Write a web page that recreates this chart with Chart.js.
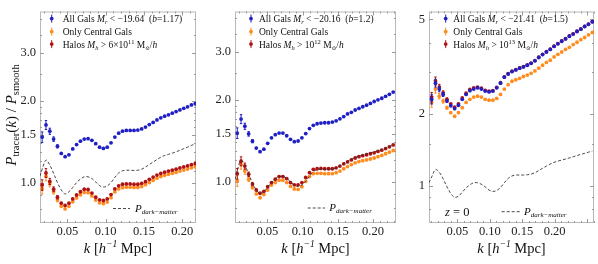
<!DOCTYPE html>
<html><head><meta charset="utf-8">
<script src="https://cdn.jsdelivr.net/npm/chart.js@4.4.1/dist/chart.umd.min.js"></script>
<style>
html,body{margin:0;padding:0;background:#fff;}
#wrap{position:relative;width:598px;height:264px;overflow:hidden;background:#fff;}
canvas{position:absolute;top:0;}
</style></head><body>
<div id="wrap">
<canvas id="c1" width="200" height="264" style="left:0px;width:200px;height:264px"></canvas>
<canvas id="c2" width="200" height="264" style="left:200px;width:200px;height:264px"></canvas>
<canvas id="c3" width="198" height="264" style="left:400px;width:198px;height:264px"></canvas>
</div>
<script>
// ---------------- DATA ----------------
// Panel 1 (M_r < -19.64)
const k1 = [0.017,0.022,0.027,0.032,0.037,0.042,0.047,0.052,0.057,0.062,0.067,0.072,0.077,0.082,0.087,0.092,0.097,0.102,0.107,0.112,0.117,0.122,0.127,0.132,0.137,0.142,0.147,0.152,0.157,0.162,0.167,0.172,0.177,0.182,0.187,0.192,0.197,0.202,0.207,0.212,0.217];
const allGals1 = [1.47,1.63,1.545,1.445,1.36,1.28,1.245,1.265,1.33,1.38,1.42,1.445,1.45,1.43,1.39,1.35,1.335,1.35,1.40,1.47,1.52,1.545,1.555,1.555,1.555,1.56,1.575,1.60,1.635,1.665,1.70,1.73,1.755,1.775,1.80,1.825,1.85,1.875,1.90,1.93,1.95];
const centrals1 = [0.95,1.055,0.99,0.925,0.862,0.818,0.800,0.818,0.850,0.878,0.902,0.920,0.918,0.893,0.862,0.842,0.836,0.848,0.880,0.924,0.948,0.958,0.962,0.962,0.960,0.960,0.968,0.982,1.000,1.020,1.038,1.052,1.063,1.073,1.082,1.091,1.102,1.112,1.122,1.133,1.143];
const halos1 = [0.98,1.085,1.01,0.946,0.883,0.840,0.824,0.840,0.871,0.900,0.925,0.945,0.943,0.915,0.883,0.864,0.859,0.871,0.903,0.948,0.973,0.986,0.989,0.989,0.986,0.986,0.994,1.008,1.028,1.048,1.066,1.080,1.092,1.102,1.111,1.120,1.132,1.142,1.152,1.164,1.174];
const kDM1 = [0.0142,0.017,0.022,0.027,0.032,0.037,0.042,0.047,0.052,0.057,0.062,0.067,0.072,0.077,0.082,0.087,0.092,0.097,0.102,0.107,0.112,0.117,0.122,0.127,0.132,0.137,0.142,0.147,0.152,0.157,0.162,0.167,0.172,0.177,0.182,0.187,0.192,0.197,0.202,0.207,0.212,0.217];
const darkMatter1 = [1.057,1.12,1.21,1.16,1.08,1.00,0.94,0.908,0.925,0.96,1.00,1.03,1.05,1.05,1.035,1.005,0.975,0.963,0.972,1.00,1.045,1.085,1.105,1.11,1.11,1.108,1.11,1.12,1.14,1.165,1.19,1.215,1.24,1.258,1.27,1.283,1.298,1.315,1.333,1.35,1.37,1.387];

// Panel 2 (M_r < -20.16)
const k2 = [0.0072,0.0126,0.0180,0.0234,0.0288,0.0342,0.0396,0.0450,0.0504,0.0558,0.0612,0.0666,0.0720,0.0774,0.0828,0.0882,0.0936,0.0990,0.1044,0.1098,0.1152,0.1206,0.1260,0.1314,0.1368,0.1422,0.1476,0.1530,0.1584,0.1638,0.1692,0.1746,0.1800,0.1854,0.1908,0.1962,0.2016,0.2070,0.2124,0.2178,0.2232,0.2286];
const allGals2 = [1.51,1.70,1.60,1.50,1.41,1.33,1.29,1.318,1.385,1.45,1.49,1.51,1.51,1.476,1.432,1.404,1.412,1.45,1.504,1.568,1.612,1.634,1.643,1.648,1.648,1.657,1.675,1.703,1.736,1.775,1.80,1.835,1.86,1.886,1.912,1.94,1.972,2.0,2.027,2.06,2.095,2.136];
const centrals2 = [1.008,1.157,1.095,1.022,0.954,0.903,0.874,0.898,0.933,0.973,0.994,1.014,1.014,0.994,0.962,0.941,0.938,0.959,1.003,1.045,1.071,1.074,1.074,1.071,1.071,1.071,1.080,1.095,1.117,1.138,1.157,1.174,1.187,1.196,1.203,1.213,1.223,1.237,1.250,1.268,1.285,1.303];
const halos2 = [1.071,1.19,1.142,1.066,0.981,0.933,0.908,0.923,0.959,0.994,1.022,1.045,1.045,1.028,0.994,0.975,0.975,0.994,1.037,1.080,1.111,1.117,1.120,1.117,1.117,1.117,1.126,1.142,1.164,1.183,1.203,1.223,1.237,1.247,1.257,1.268,1.278,1.293,1.307,1.325,1.344,1.366];
const kDM2 = [0.004,0.0072,0.0126,0.0180,0.0234,0.0288,0.0342,0.0396,0.0450,0.0504,0.0558,0.0612,0.0666,0.0720,0.0774,0.0828,0.0882,0.0936,0.0990,0.1044,0.1098,0.1152,0.1206,0.1260,0.1314,0.1368,0.1422,0.1476,0.1530,0.1584,0.1638,0.1692,0.1746,0.1800,0.1854,0.1908,0.1962,0.2016,0.2070,0.2124,0.2178,0.2232,0.2286];
const darkMatter2 = [1.02,1.10,1.20,1.15,1.07,0.99,0.935,0.905,0.92,0.955,0.995,1.025,1.045,1.047,1.03,1.0,0.972,0.962,0.972,1.005,1.05,1.09,1.108,1.113,1.113,1.112,1.115,1.125,1.145,1.168,1.19,1.21,1.228,1.243,1.255,1.265,1.276,1.288,1.30,1.315,1.33,1.348,1.366];

// Panel 3 (M_r < -21.41)
const k3 = [0.0103,0.0162,0.0221,0.0280,0.0339,0.0398,0.0457,0.0516,0.0575,0.0634,0.0693,0.0752,0.0811,0.0870,0.0929,0.0988,0.1047,0.1106,0.1165,0.1224,0.1283,0.1342,0.1401,0.1460,0.1519,0.1578,0.1637,0.1696,0.1755,0.1814,0.1873,0.1932,0.1991,0.2050,0.2109,0.2168,0.2227,0.2286,0.2345,0.2404,0.2463,0.2522,0.2581];
const allGals3 = [2.31,2.70,2.55,2.42,2.27,2.17,2.11,2.18,2.31,2.42,2.51,2.55,2.58,2.55,2.50,2.48,2.50,2.58,2.70,2.86,2.95,3.02,3.07,3.12,3.16,3.21,3.27,3.35,3.46,3.56,3.65,3.74,3.85,3.95,4.05,4.14,4.25,4.34,4.45,4.55,4.67,4.77,4.89];
const centrals3 = [2.24,2.55,2.38,2.27,2.13,2.03,1.96,2.03,2.13,2.24,2.31,2.36,2.38,2.36,2.31,2.29,2.29,2.33,2.42,2.55,2.66,2.75,2.79,2.83,2.88,2.92,2.97,3.04,3.12,3.21,3.30,3.37,3.48,3.57,3.65,3.74,3.82,3.92,4.01,4.11,4.20,4.31,4.41];
const halos3 = [2.36,2.76,2.60,2.46,2.31,2.21,2.14,2.21,2.34,2.45,2.54,2.58,2.60,2.57,2.52,2.50,2.51,2.59,2.71,2.87,2.96,3.03,3.08,3.13,3.17,3.22,3.28,3.36,3.47,3.57,3.66,3.75,3.86,3.96,4.06,4.15,4.26,4.35,4.46,4.56,4.68,4.78,4.90];
const kDM3 = [0.0062,0.0103,0.0162,0.0221,0.0280,0.0339,0.0398,0.0457,0.0516,0.0575,0.0634,0.0693,0.0752,0.0811,0.0870,0.0929,0.0988,0.1047,0.1106,0.1165,0.1224,0.1283,0.1342,0.1401,0.1460,0.1519,0.1578,0.1637,0.1696,0.1755,0.1814,0.1873,0.1932,0.1991,0.2050,0.2109,0.2168,0.2227,0.2286,0.2345,0.2404,0.2463,0.2522,0.2581];
const darkMatter3 = [1.03,1.09,1.17,1.14,1.07,0.99,0.93,0.895,0.905,0.94,0.98,1.01,1.03,1.03,1.015,0.99,0.96,0.948,0.955,0.985,1.03,1.075,1.10,1.11,1.11,1.11,1.113,1.12,1.135,1.16,1.185,1.21,1.235,1.255,1.27,1.283,1.296,1.31,1.325,1.34,1.355,1.37,1.385,1.40];

// fractional error bars (by k index)
const relErr = [0.045,0.038,0.026,0.019,0.014,0.012,0.010,0.009,0.009,0.008,0.008,0.008,0.007,0.007,0.007,0.007,0.007,0.007,0.006,0.006,0.006,0.006,0.006,0.006,0.006,0.006,0.006,0.006,0.006,0.006,0.006,0.006,0.006,0.006,0.006,0.006,0.006,0.006,0.006,0.006,0.006,0.006,0.006];

// tick labels
const xTickValues = [0.05,0.10,0.15,0.20];
const yTicks12 = [1.0,1.5,2.0,3.0];
const yTicks3 = [1,2,5];
const magCuts = ['−19.64','−20.16','−21.41'];
const biasVals = ['1.17','1.2','1.5'];

// ---------------- STYLE ----------------
const FONT = "'Liberation Serif','DejaVu Serif',serif";
const C_BLUE = '#1f1fc4', C_ORANGE = '#ff8c1e', C_RED = '#b01212', C_DM = '#333333';
const FRAME = '#b9b9b9';

function font(size, it){ return (it?'italic ':'') + size + 'px ' + FONT; }
function richWidth(ctx, parts){
  let w=0; for(const p of parts){ ctx.font=font(p[1],p[2]); w+=ctx.measureText(p[0]).width; } return w;
}
function drawRich(ctx, x, y, parts, align){
  let cx = x; if(align==='center') cx = x - richWidth(ctx,parts)/2;
  ctx.textAlign='left'; ctx.textBaseline='alphabetic';
  for(const p of parts){ ctx.font=font(p[1],p[2]); ctx.fillText(p[0], cx, y+(p[3]||0)); cx+=ctx.measureText(p[0]).width; }
}
function marker(ctx, x, y, col){
  ctx.strokeStyle=col; ctx.fillStyle=col; ctx.lineWidth=1;
  ctx.beginPath(); ctx.moveTo(x, y-4); ctx.lineTo(x, y+4); ctx.stroke();
  ctx.beginPath(); ctx.arc(x, y, 1.9, 0, Math.PI*2); ctx.fill();
}

const errorBarPlugin = {
  id:'errbars',
  beforeDatasetDraw(chart, args){
    const ds = chart.data.datasets[args.index];
    if(!ds.errFrac) return;
    const ctx=chart.ctx, ys=chart.scales.y;
    ctx.save(); ctx.strokeStyle=ds.backgroundColor; ctx.lineWidth=1;
    args.meta.data.forEach((pt,i)=>{
      const v=ds.data[i].y, e=ds.errFrac[i];
      const y1=ys.getPixelForValue(v*(1+e)), y2=ys.getPixelForValue(v*(1-e));
      ctx.beginPath(); ctx.moveTo(pt.x, y1); ctx.lineTo(pt.x, y2); ctx.stroke();
      if (e>0.012){ ctx.beginPath(); ctx.moveTo(pt.x-1.2,y1); ctx.lineTo(pt.x+1.2,y1); ctx.moveTo(pt.x-1.2,y2); ctx.lineTo(pt.x+1.2,y2); ctx.stroke(); }
    });
    ctx.restore();
  }
};

function framePlugin(cfg){
  return {
    id:'frame',
    beforeDatasetsDraw(chart){
      const {ctx, chartArea:a, scales:{x,y}} = chart;
      ctx.save();
      ctx.strokeStyle=FRAME; ctx.lineWidth=1;
      ctx.strokeRect(a.left+0.5, a.top+0.5, a.right-a.left-1, a.bottom-a.top-1);
      ctx.strokeStyle='#9a9a9a';
      // x ticks
      for(let t=0.01; t<x.max; t+=0.01){
        const tv=Math.round(t*100)/100; if(tv<x.min) continue;
        const px=Math.round(x.getPixelForValue(tv))+0.5;
        const L = (Math.round(tv*100)%5===0)?4:2;
        ctx.beginPath(); ctx.moveTo(px,a.bottom); ctx.lineTo(px,a.bottom-L); ctx.moveTo(px,a.top); ctx.lineTo(px,a.top+L); ctx.stroke();
      }
      const drawY=(v,L)=>{ if(v<y.min||v>y.max) return; const py=Math.round(y.getPixelForValue(v))+0.5;
        ctx.beginPath(); ctx.moveTo(a.left,py); ctx.lineTo(a.left+L,py); ctx.moveTo(a.right,py); ctx.lineTo(a.right-L,py); ctx.stroke(); };
      cfg.yTicks.forEach(v=>drawY(v,4));
      cfg.yMinor.forEach(v=>drawY(v,2));
      ctx.restore();
    },
    afterDraw(chart){
      const {ctx, chartArea:a} = chart;
      ctx.save(); ctx.fillStyle='#111';
      // legend
      const L=cfg.legend;
      const cols=[C_BLUE,C_ORANGE,C_RED];
      L.rows.forEach((r,i)=>{
        marker(ctx, L.mx, L.base[i]-3.4, cols[i]);
        ctx.fillStyle='#111';
        drawRich(ctx, L.tx, L.base[i], r);
      });
      // dark-matter legend
      const D=cfg.dm;
      ctx.strokeStyle=C_DM; ctx.lineWidth=0.9; ctx.setLineDash([3,2]);
      ctx.beginPath(); ctx.moveTo(D.x0, D.y); ctx.lineTo(D.x1, D.y); ctx.stroke(); ctx.setLineDash([]);
      ctx.fillStyle='#111';
      drawRich(ctx, D.tx, D.ty, [['P',11,1],['dark−matter',7,1,2]]);
      if(cfg.z){ drawRich(ctx, cfg.z.x, cfg.z.y, [['z',12.5,1],[' = 0',12.5,0]]); }
      // x title
      drawRich(ctx, (a.left+a.right)/2, 253, [['k',14.5,1],[' [',14.5,0],['h',14.5,1],['−1',9.5,1,-6],[' Mpc]',14.5,0]], 'center');
      // y title
      if(cfg.yTitle){
        ctx.save(); ctx.translate(16, 115); ctx.rotate(-Math.PI/2);
        drawRich(ctx, 0, 0, [['P',15,1],['tracer',10.5,0,3],['(',15,0],['k',15,1],[') / ',15,0],['P',15,1],['smooth',10.5,0,3]], 'center');
        ctx.restore();
      }
      ctx.restore();
    }
  };
}

function mk(ks, vals){ return ks.map((k,i)=>({x:k, y:vals[i]})); }

function legendRows(mag, b, halo){
  return [
    [['All Gals ',9.5,0],['M',9.5,1],['r',6.5,1,2],[' < '+mag+'  (',9.5,0],['b',9.5,1],['='+b+')',9.5,0]],
    [['Only Central Gals',9.5,0]],
    halo
  ];
}

function makeChart(id, P){
  const datasets = [
    {type:'line', data: mk(P.kDM, P.dm), borderColor:C_DM, borderWidth:0.9, borderDash:[3,2], pointRadius:0, tension:0.35, fill:false},
    {type:'scatter', data: mk(P.k, P.all), backgroundColor:C_BLUE, pointRadius:1.9, pointBorderWidth:0, errFrac: relErr},
    {type:'scatter', data: mk(P.k, P.halo), backgroundColor:C_RED, pointRadius:1.9, pointBorderWidth:0, errFrac: relErr},
    {type:'scatter', data: mk(P.k, P.cen), backgroundColor:C_ORANGE, pointRadius:1.9, pointBorderWidth:0, errFrac: relErr}
  ];
  return new Chart(document.getElementById(id), {
    type:'scatter',
    data:{datasets},
    options:{
      responsive:false, animation:false, devicePixelRatio:1,
      layout:{padding:{left:0,right:P.padR,top:7,bottom:0}},
      plugins:{legend:{display:false}, tooltip:{enabled:false}},
      scales:{
        x:{type:'linear', min:P.xmin, max:P.xmax, bounds:'data',
           grid:{display:false, drawTicks:false}, border:{display:false},
           afterBuildTicks:(s)=>{ s.ticks = xTickValues.map(v=>({value:v})); },
           afterFit:(s)=>{ s.height = 41; },
           ticks:{autoSkip:false, maxRotation:0, padding:1, color:'#222', font:{family:FONT, size:12.5},
                  callback:(v)=>Number(v).toFixed(2)}},
        y:{type:'logarithmic', min:P.ymin, max:P.ymax, bounds:'data',
           grid:{display:false, drawTicks:false}, border:{display:false},
           afterBuildTicks:(s)=>{ s.ticks = P.yTicks.map(v=>({value:v})); },
           afterFit:(s)=>{ s.width = P.yW; },
           ticks:{autoSkip:false, padding:4, color:'#222', font:{family:FONT, size:12.5},
                  callback:P.yFmt}}
      }
    },
    plugins:[errorBarPlugin, framePlugin(P.cfg)]
  });
}

makeChart('c1', {
  k:k1, all:allGals1, cen:centrals1, halo:halos1, kDM:kDM1, dm:darkMatter1,
  xmin:0.0142, xmax:0.218, ymin:0.71, ymax:4.26, yW:40, padR:1,
  yTicks:yTicks12, yFmt:(v)=>Number(v).toFixed(1),
  cfg:{ yTicks:yTicks12, yMinor:[0.8,0.9,1.1,1.2,1.3,1.4,1.6,1.7,1.8,1.9,2.5,3.5,4.0], yTitle:true,
    legend:{mx:51.7, tx:62.7, base:[22,35,47.5], rows:legendRows(magCuts[0], biasVals[0],
      [['Halos ',9.5,0],['M',9.5,1],['h',6.5,1,2],[' > 6×10',9.5,0],['11',6.5,0,-4],[' M',9.5,0],['⊙',5.5,0,2],['/',9.5,0],['h',9.5,1]])},
    dm:{x0:113, x1:130, y:208.5, tx:135, ty:211.5} }
});
makeChart('c2', {
  k:k2, all:allGals2, cen:centrals2, halo:halos2, kDM:kDM2, dm:darkMatter2,
  xmin:0.004, xmax:0.2326, ymin:0.706, ymax:4.22, yW:35, padR:2,
  yTicks:yTicks12, yFmt:(v)=>Number(v).toFixed(1),
  cfg:{ yTicks:yTicks12, yMinor:[0.8,0.9,1.1,1.2,1.3,1.4,1.6,1.7,1.8,1.9,2.5,3.5,4.0],
    legend:{mx:51, tx:59, base:[22,35,47.5], rows:legendRows(magCuts[1], biasVals[1],
      [['Halos ',9.5,0],['M',9.5,1],['h',6.5,1,2],[' > 10',9.5,0],['12',6.5,0,-4],[' M',9.5,0],['⊙',5.5,0,2],['/',9.5,0],['h',9.5,1]])},
    dm:{x0:107.7, x1:125, y:208, tx:129.3, ty:211} }
});
makeChart('c3', {
  k:k3, all:allGals3, cen:centrals3, halo:halos3, kDM:kDM3, dm:darkMatter3,
  xmin:0.0062, xmax:0.2607, ymin:0.698, ymax:5.40, yW:29, padR:1,
  yTicks:yTicks3, yFmt:(v)=>String(Number(v)),
  cfg:{ yTicks:yTicks3, yMinor:[0.8,0.9,1.5,3,4],
    legend:{mx:45.7, tx:53.3, base:[22,35,47.5], rows:legendRows(magCuts[2], biasVals[2],
      [['Halos ',9.5,0],['M',9.5,1],['h',6.5,1,2],[' > 10',9.5,0],['13',6.5,0,-4],[' M',9.5,0],['⊙',5.5,0,2],['/',9.5,0],['h',9.5,1]])},
    dm:{x0:101.7, x1:120, y:211.7, tx:124, ty:214.5}, z:{x:45, y:215.5} }
});
</script>
</body></html>
